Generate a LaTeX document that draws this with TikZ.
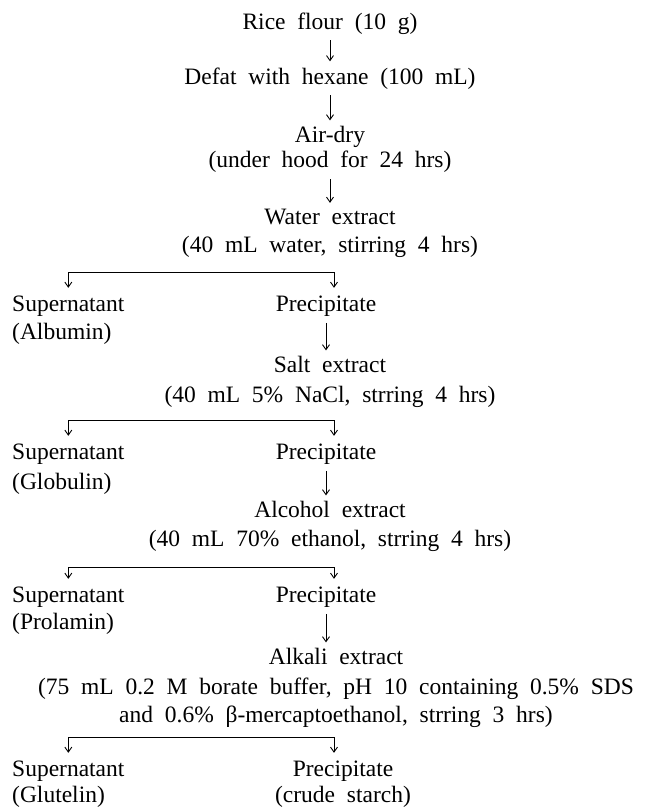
\documentclass[tikz,border=0pt]{standalone}
\usepackage{fontspec}
\setmainfont{Liberation Serif}
\newfontfamily\stagefont[WordSpace=2]{Liberation Serif}
\usetikzlibrary{arrows.meta}

\tikzset{
    stage/.style={font=\stagefont\fontsize{23.5}{29}\selectfont, inner sep=0pt, align=center},
    side/.style={stage, align=left, anchor=west},
    flow/.style={-{Straight Barb[length=5pt,width=7pt]}, line width=0.9pt, shorten <=6pt, shorten >=6pt},
    fork/.style={-{Straight Barb[length=5pt,width=7pt]}, line width=0.9pt, shorten >=8pt}
}

\begin{document}
\begin{tikzpicture}[x=1pt,y=-1pt]
    \useasboundingbox (0,0) rectangle (645,811);

    % main steps
    \node[stage] (rice) at (330,23.3) {Rice flour (10 g)};
    \node[stage] (defat) at (330,78.3) {Defat with hexane (100 mL)};
    \node[stage] (airdry) at (330,149.8) {Air-dry\\[-4pt](under hood for 24 hrs)};
    \node[stage] (water) at (330,233.3) {Water extract\\[-1pt](40 mL water, stirring 4 hrs)};
    \node[stage] (salt) at (330,382.3) {Salt extract\\[1pt](40 mL 5\% NaCl, strring 4 hrs)};
    \node[stage] (alcohol) at (330,526.8) {Alcohol extract\\(40 mL 70\% ethanol, strring 4 hrs)};
    \node[stage] (alkali) at (336,688.3) {Alkali extract\\[1pt](75 mL 0.2 M borate buffer, pH 10 containing 0.5\% SDS\\[-1pt]and 0.6\% β-mercaptoethanol, strring 3 hrs)};

    % supernatants
    \node[side] (sup1) at (12,320.3) {Supernatant\\[-1pt](Albumin)};
    \node[side] (sup2) at (12,469.3) {Supernatant\\[1pt](Globulin)};
    \node[side] (sup3) at (12,610.8) {Supernatant\\[-2pt](Prolamin)};
    \node[side] (sup4) at (12,784.3) {Supernatant\\[-3pt](Glutelin)};

    % precipitates
    \node[stage] (prec1) at (326,306.3) {Precipitate};
    \node[stage] (prec2) at (326,454.3) {Precipitate};
    \node[stage] (prec3) at (326,597.3) {Precipitate};
    \node[stage] (prec4) at (343,784.3) {Precipitate\\[-3pt](crude starch)};

    % split points
    \coordinate (split1) at (334,272);
    \coordinate (split2) at (334,420);
    \coordinate (split3) at (334,567);
    \coordinate (split4) at (334,737);

    % arrows
    \draw[flow] (rice) -- (defat);
    \draw[flow] (defat) -- (airdry);
    \draw[flow] (airdry) -- (water);
    \draw[flow] (prec1) -- (prec1 |- salt.north);
    \draw[flow] (prec2) -- (prec2 |- alcohol.north);
    \draw[flow] (prec3) -- (prec3 |- alkali.north);

    \draw[fork] (split1) -| (sup1.north);
    \draw[fork] (split1) -- (split1 |- prec1.north);
    \draw[fork] (split2) -| (sup2.north);
    \draw[fork] (split2) -- (split2 |- prec2.north);
    \draw[fork] (split3) -| (sup3.north);
    \draw[fork] (split3) -- (split3 |- prec3.north);
    \draw[fork] (split4) -| (sup4.north);
    \draw[fork] (split4) -- (split4 |- prec4.north);
\end{tikzpicture}
\end{document}
